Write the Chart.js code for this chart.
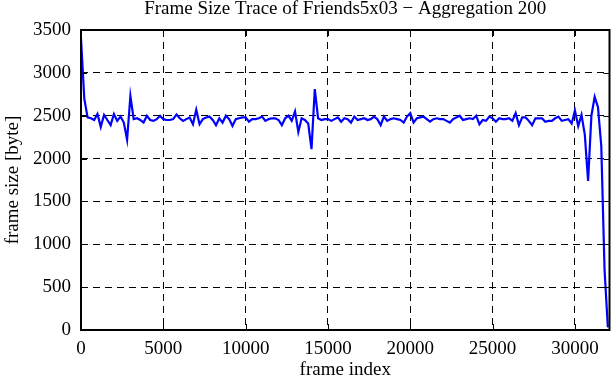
<!DOCTYPE html>
<html>
<head>
<meta charset="utf-8">
<script src="https://cdn.jsdelivr.net/npm/chart.js@4/dist/chart.umd.min.js"></script>
<style>
html,body{margin:0;padding:0;background:#fff;}
#c{display:block;}
</style>
</head>
<body>
<canvas id="c" width="611" height="380"></canvas>
<script>
const titleText = "Frame Size Trace of Friends5x03 \u2212 Aggregation 200";
const xLabel = "frame index";
const yLabel = "frame size [byte]";
const xTicks = [0, 5000, 10000, 15000, 20000, 25000, 30000];
const yTicks = [0, 500, 1000, 1500, 2000, 2500, 3000, 3500];

const frameIndex = [
0,200,400,600,800,1000,1200,1400,1600,1800,
2000,2200,2400,2600,2800,3000,3200,3400,3600,3800,
4000,4200,4400,4600,4800,5000,5200,5400,5600,5800,
6000,6200,6400,6600,6800,7000,7200,7400,7600,7800,
8000,8200,8400,8600,8800,9000,9200,9400,9600,9800,
10000,10200,10400,10600,10800,11000,11200,11400,11600,11800,
12000,12200,12400,12600,12800,13000,13200,13400,13600,13800,
14000,14200,14400,14600,14800,15000,15200,15400,15600,15800,
16000,16200,16400,16600,16800,17000,17200,17400,17600,17800,
18000,18200,18400,18600,18800,19000,19200,19400,19600,19800,
20000,20200,20400,20600,20800,21000,21200,21400,21600,21800,
22000,22200,22400,22600,22800,23000,23200,23400,23600,23800,
24000,24200,24400,24600,24800,25000,25200,25400,25600,25800,
26000,26200,26400,26600,26800,27000,27200,27400,27600,27800,
28000,28200,28400,28600,28800,29000,29200,29400,29600,29800,
30000,30200,30400,30600,30800,31000,31200,31400,31600,31800,
32000
];

const frameSize = [
3400,2700,2480,2470,2450,2520,2370,2510,2450,2390,
2520,2440,2490,2420,2220,2730,2460,2470,2450,2420,
2500,2450,2440,2460,2500,2460,2450,2450,2460,2515,
2470,2440,2460,2480,2400,2570,2400,2460,2480,2490,
2450,2390,2470,2420,2500,2460,2380,2460,2470,2480,
2480,2430,2460,2460,2470,2490,2440,2460,2470,2470,
2450,2390,2470,2500,2440,2550,2310,2470,2450,2410,
2110,2810,2470,2450,2460,2460,2440,2460,2480,2430,
2470,2460,2420,2490,2450,2460,2470,2450,2460,2490,
2460,2390,2490,2440,2460,2470,2460,2450,2420,2490,
2530,2420,2470,2480,2490,2460,2430,2460,2470,2460,
2460,2440,2420,2460,2480,2500,2450,2460,2470,2460,
2500,2400,2450,2440,2490,2470,2430,2470,2460,2460,
2470,2440,2530,2390,2480,2480,2440,2390,2470,2470,
2470,2430,2440,2440,2470,2490,2440,2450,2460,2410,
2560,2380,2510,2280,1740,2500,2720,2600,2150,700,
30
];

const X_MAX = 32100;
const Y_MAX = 3500;

const points = frameIndex.map((f, i) => ({x: f, y: frameSize[i]}));
const serif = "'Liberation Serif', 'DejaVu Serif', serif";
const FS = 19;

const frameBox = {
  id: 'frameBox',
  afterDatasetsDraw(chart) {
    const {ctx, chartArea: a, scales} = chart;
    ctx.save();
    ctx.strokeStyle = '#000';
    ctx.lineWidth = 1;
    ctx.beginPath();
    const L = 6;
    xTicks.forEach(v => {
      const px = Math.round(scales.x.getPixelForValue(v)) + 0.5;
      ctx.moveTo(px, a.bottom); ctx.lineTo(px, a.bottom - L);
      ctx.moveTo(px, a.top); ctx.lineTo(px, a.top + L);
    });
    yTicks.forEach(v => {
      const py = Math.round(scales.y.getPixelForValue(v)) + 0.5;
      ctx.moveTo(a.left, py); ctx.lineTo(a.left + L, py);
      ctx.moveTo(a.right, py); ctx.lineTo(a.right - L, py);
    });
    ctx.stroke();
    ctx.lineWidth = 2;
    ctx.strokeRect(a.left, a.top, a.right - a.left, a.bottom - a.top);
    ctx.restore();
  }
};

new Chart(document.getElementById('c'), {
  type: 'line',
  data: {
    datasets: [{
      data: points,
      borderColor: '#0000ff',
      borderWidth: 2.2,
      pointRadius: 0,
      tension: 0,
      fill: false
    }]
  },
  options: {
    responsive: false,
    animation: false,
    devicePixelRatio: 1,
    layout: {padding: {left: 0, right: 1.5, top: 0, bottom: 0}},
    plugins: {legend: {display: false}, tooltip: {enabled: false}, title: {display: false}},
    scales: {
      x: {
        type: 'linear',
        position: 'bottom',
        min: 0, max: X_MAX,
        afterBuildTicks: s => { s.ticks = xTicks.map(v => ({value: v})); },
        afterFit: s => { s.height = 50; },
        grid: {color: '#000', lineWidth: 1, drawTicks: false},
        border: {display: false, dash: [7,5]},
        ticks: {color: '#000', font: {family: serif, size: FS}, padding: 8, maxRotation: 0, autoSkip: false,
                callback: v => String(v)},
        title: {display: true, text: xLabel, color: '#000', font: {family: serif, size: FS, lineHeight: 1.0}, padding: {top: 0, bottom: 0}}
      },
      xTop: {
        type: 'linear',
        position: 'top',
        display: true,
        afterFit: s => { s.height = 30; },
        grid: {display: false, drawTicks: false},
        border: {display: false},
        ticks: {display: false},
        title: {display: true, text: titleText, color: '#000', font: {family: serif, size: FS, lineHeight: 1.0}, padding: {top: 0, bottom: 0}}
      },
      y: {
        type: 'linear',
        min: 0, max: Y_MAX,
        afterBuildTicks: s => { s.ticks = yTicks.map(v => ({value: v})); },
        afterFit: s => { s.width = 81; },
        grid: {color: '#000', lineWidth: 1, drawTicks: false},
        border: {display: false, dash: [7,5]},
        ticks: {color: '#000', font: {family: serif, size: FS}, padding: 10, callback: v => String(v)},
        title: {display: true, text: yLabel, color: '#000', font: {family: serif, size: FS}, padding: {top: 2, bottom: 0}}
      }
    }
  },
  plugins: [frameBox]
});
</script>
</body>
</html>
